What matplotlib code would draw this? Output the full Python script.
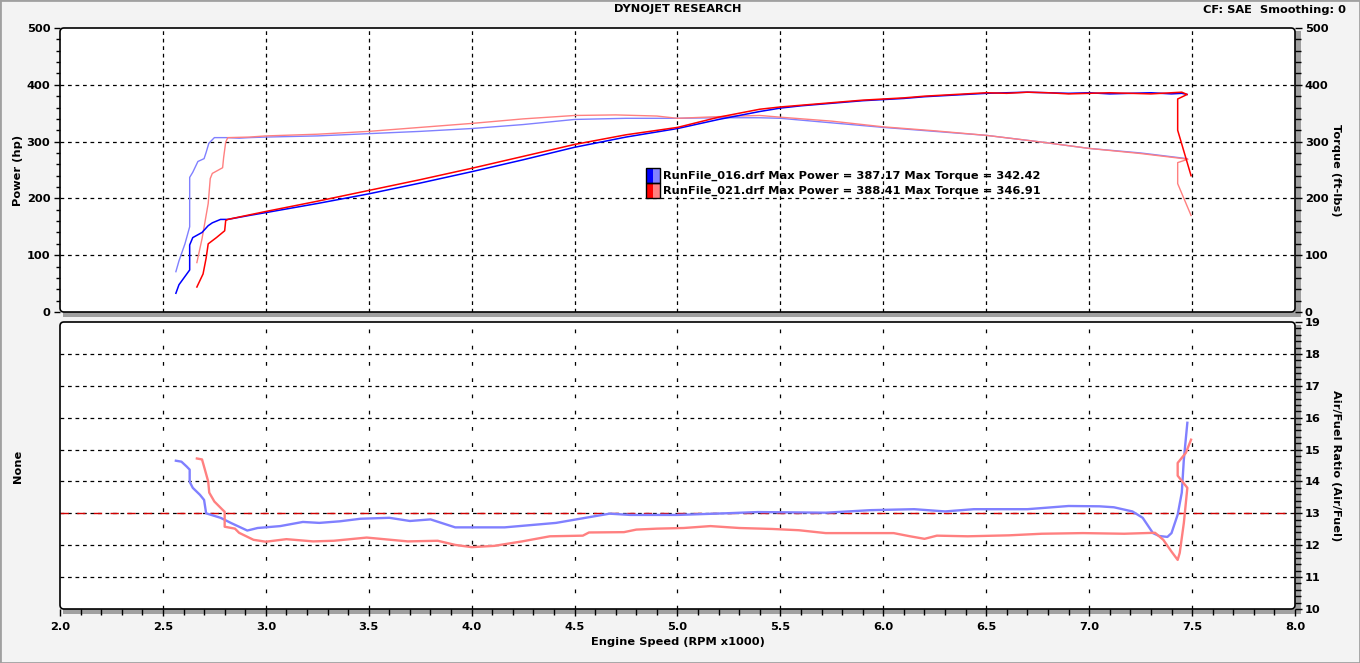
import matplotlib
matplotlib.use("Agg")
import matplotlib.pyplot as plt
from matplotlib.patches import FancyBboxPatch, Rectangle
from matplotlib.ticker import MultipleLocator

W, H = 1360, 663

# Run 016 (blue) - power / torque vs engine speed
rpm_pwr_016 = [2.563, 2.578, 2.63, 2.63, 2.645, 2.69, 2.72, 2.74, 2.78, 2.815, 2.92, 3.0, 3.25, 3.5,
               3.75, 4.0, 4.25, 4.5, 4.75, 5.0, 5.2, 5.4, 5.5, 5.6, 5.7, 5.8, 5.9, 6.0, 6.1, 6.2,
               6.3, 6.4, 6.5, 6.6, 6.7, 6.8, 6.9, 7.0, 7.1, 7.2, 7.3, 7.4, 7.45, 7.476]
hp_016 = [33, 48, 74, 118, 131, 140, 152, 157, 163, 163, 170, 175, 191, 208,
          227, 247, 268, 290, 308, 323, 339, 353, 359, 363, 366, 369, 372, 374, 376, 379,
          381, 383, 385, 386, 387, 386, 385, 386, 384, 385, 386, 384, 385, 383]
rpm_trq_016 = [2.563, 2.578, 2.607, 2.63, 2.63, 2.645, 2.67, 2.70, 2.71, 2.723, 2.75, 2.81, 2.87,
               2.92, 3.0, 3.25, 3.5, 3.75, 4.0, 4.25, 4.5, 4.75, 5.0, 5.2, 5.4, 5.5, 5.75, 6.0,
               6.25, 6.5, 6.75, 7.0, 7.25, 7.476]
trq_016 = [71, 90, 120, 150, 237, 246, 265, 270, 281, 297, 307, 307, 306,
           307, 308, 310, 314, 318, 323, 330, 339, 341, 341, 342, 342, 341, 333, 325,
           318, 311, 300, 288, 280, 270]

# Run 021 (red)
rpm_pwr_021 = [2.665, 2.695, 2.71, 2.72, 2.76, 2.80, 2.805, 2.815, 2.92, 3.0, 3.25, 3.5, 3.75, 4.0,
               4.25, 4.5, 4.75, 5.0, 5.2, 5.4, 5.5, 5.6, 5.7, 5.8, 5.9, 6.0, 6.1, 6.2, 6.3, 6.4,
               6.5, 6.6, 6.7, 6.8, 6.9, 7.0, 7.1, 7.2, 7.3, 7.4, 7.45, 7.476, 7.43, 7.43, 7.495]
hp_021 = [44, 67, 95, 120, 131, 143, 161, 163, 171, 177, 195, 214, 233, 253,
          274, 295, 312, 325, 343, 357, 361, 364, 367, 370, 373, 375, 377, 380, 382, 384,
          386, 385, 387, 386, 384, 385, 386, 385, 384, 386, 387, 383, 375, 320, 240]
rpm_trq_021 = [2.665, 2.69, 2.72, 2.73, 2.74, 2.79, 2.795, 2.805, 2.815, 2.92, 3.0, 3.25, 3.5,
               3.75, 4.0, 4.25, 4.5, 4.7, 4.9, 5.0, 5.2, 5.4, 5.5, 5.75, 6.0, 6.25, 6.5, 6.75,
               7.0, 7.25, 7.48, 7.43, 7.43, 7.495]
trq_021 = [87, 129, 191, 235, 244, 254, 272, 299, 307, 308, 310, 313, 318,
           325, 332, 340, 346, 347, 345, 341, 344, 346, 343, 336, 326, 319, 311, 300,
           288, 279, 269, 263, 226, 170]

# Air/fuel ratio
rpm_afr_016 = [2.563, 2.59, 2.615, 2.63, 2.63, 2.645, 2.68, 2.70, 2.71, 2.78, 2.83, 2.91, 2.96,
               3.07, 3.18, 3.26, 3.36, 3.46, 3.6, 3.7, 3.8, 3.92, 4.16, 4.41, 4.67, 4.77, 5.0,
               5.23, 5.39, 5.72, 5.94, 6.15, 6.30, 6.44, 6.70, 6.90, 7.05, 7.12, 7.21, 7.26,
               7.31, 7.34, 7.38, 7.40, 7.43, 7.45, 7.46, 7.477]
afr_016 = [14.65, 14.62, 14.47, 14.37, 13.99, 13.8, 13.58, 13.42, 13.0, 12.86, 12.7, 12.46, 12.54,
           12.6, 12.73, 12.7, 12.75, 12.83, 12.86, 12.76, 12.81, 12.56, 12.56, 12.70, 12.99, 12.95, 12.95,
           13.0, 13.04, 13.02, 13.1, 13.13, 13.06, 13.13, 13.13, 13.23, 13.22, 13.19, 13.06, 12.86,
           12.38, 12.29, 12.26, 12.38, 12.96, 13.65, 14.69, 15.84]
rpm_afr_021 = [2.665, 2.69, 2.704, 2.72, 2.725, 2.75, 2.79, 2.80, 2.80, 2.85, 2.87, 2.94, 3.0,
               3.1, 3.23, 3.33, 3.49, 3.69, 3.835, 3.92, 4.0, 4.11, 4.245, 4.38, 4.54, 4.57,
               4.74, 4.80, 4.90, 5.03, 5.16, 5.30, 5.46, 5.59, 5.72, 6.05, 6.13, 6.20, 6.26,
               6.41, 6.61, 6.77, 6.97, 7.17, 7.32, 7.36, 7.40, 7.43, 7.44, 7.46, 7.477, 7.43,
               7.43, 7.47, 7.495]
afr_021 = [14.72, 14.69, 14.37, 14.0, 13.65, 13.37, 13.11, 13.05, 12.58, 12.52, 12.39, 12.17, 12.11,
           12.19, 12.12, 12.14, 12.24, 12.12, 12.14, 12.01, 11.94, 11.98, 12.12, 12.28, 12.30, 12.40,
           12.41, 12.49, 12.52, 12.54, 12.60, 12.54, 12.51, 12.47, 12.38, 12.38, 12.28, 12.20, 12.30,
           12.28, 12.31, 12.36, 12.38, 12.36, 12.39, 12.17, 11.8, 11.54, 11.76, 12.70, 13.8, 14.18,
           14.58, 14.9, 15.31]
afr_target = 13.0

legend_lines = ["RunFile_016.drf Max Power = 387.17 Max Torque = 342.42",
                "RunFile_021.drf Max Power = 388.41 Max Torque = 346.91"]

BLUE, LBLUE, RED, LRED = "#0000ff", "#8080ff", "#ff0000", "#ff8080"
FS = 8.2
FONT = dict(family="DejaVu Sans", weight="bold", size=FS)

plt.rcParams["font.family"] = "DejaVu Sans"
plt.rcParams["font.weight"] = "bold"


def fx(px):
    return px / W


def fy(py):
    return 1 - py / H


fig = plt.figure(figsize=(W / 100, H / 100), dpi=100, facecolor="#f3f3f3")

# outer window border
fig.patches.append(Rectangle((0, 0), 1, 1, transform=fig.transFigure, fill=False,
                             edgecolor="#a0a0a0", linewidth=2, zorder=-5))

X0, X1 = 60, 1295
panels = [(28, 312), (322, 609)]
axes = []
for top, bot in panels:
    ax = fig.add_axes([fx(X0), fy(bot), fx(X1 - X0), (bot - top) / H])
    ax.set_facecolor("white")
    for s in ax.spines.values():
        s.set_visible(False)
    # shadow on the right and bottom
    fig.patches.append(Rectangle((X1, H - bot - 5), 6, bot - top + 2, transform=None,
                                 facecolor="#a0a0a0", edgecolor="none", zorder=-1))
    fig.patches.append(Rectangle((X0 + 3, H - bot - 5), X1 - X0 + 3, 5, transform=None,
                                 facecolor="#a0a0a0", edgecolor="none", zorder=-1))
    # rounded frame
    fig.patches.append(FancyBboxPatch((X0, H - bot), X1 - X0, bot - top, transform=None,
                                      boxstyle="round,pad=0,rounding_size=4", fill=False,
                                      edgecolor="black", linewidth=1.2, zorder=5))
    axes.append(ax)

ax_pw, ax_afr = axes

# ---- top panel: power & torque
ax_pw.set_xlim(2.0, 8.0)
ax_pw.set_ylim(0, 500)
for xv in [2.5, 3.0, 3.5, 4.0, 4.5, 5.0, 5.5, 6.0, 6.5, 7.0, 7.5]:
    ax_pw.axvline(xv, color="black", lw=0.9, ls=(0, (3, 3)), zorder=1)
for yv in [100, 200, 300, 400]:
    ax_pw.axhline(yv, color="black", lw=0.9, ls=(0, (3, 3)), zorder=1)

ax_pw.plot(rpm_trq_016, trq_016, color=LBLUE, lw=1.0, zorder=3)
ax_pw.plot(rpm_trq_021, trq_021, color=LRED, lw=1.0, zorder=3)
ax_pw.plot(rpm_pwr_016, hp_016, color=BLUE, lw=1.1, zorder=4)
ax_pw.plot(rpm_pwr_021, hp_021, color=RED, lw=1.1, zorder=4)

ax_pw.set_xticks([])
ax_pw.yaxis.set_major_locator(MultipleLocator(100))
ax_pw.yaxis.set_minor_locator(MultipleLocator(20))
ax_pw.tick_params(axis="y", which="major", direction="out", length=4, width=1, pad=3, labelsize=FS)
ax_pw.tick_params(axis="y", which="minor", direction="out", length=3, width=1)

ax_tq = ax_pw.twinx()
ax_tq.set_ylim(0, 500)
for s in ax_tq.spines.values():
    s.set_visible(False)
ax_tq.yaxis.set_major_locator(MultipleLocator(100))
ax_tq.yaxis.set_minor_locator(MultipleLocator(20))
ax_tq.tick_params(axis="y", which="major", direction="out", length=5, width=1, pad=2, labelsize=FS)
ax_tq.tick_params(axis="y", which="minor", direction="out", length=4, width=1)
ax_tq.set_xticks([])

# legend block
for i, (dark, light, txt) in enumerate([(BLUE, LBLUE, legend_lines[0]), (RED, LRED, legend_lines[1])]):
    ytop = 168 + i * 15
    fig.patches.append(Rectangle((646, H - ytop - 15), 7, 15, transform=None,
                                 facecolor=dark, edgecolor="none", zorder=6))
    fig.patches.append(Rectangle((653, H - ytop - 15), 7, 15, transform=None,
                                 facecolor=light, edgecolor="none", zorder=6))
    fig.patches.append(Rectangle((646, H - ytop - 15), 14, 15, transform=None,
                                 fill=False, edgecolor="black", linewidth=1, zorder=7))
    fig.text(fx(663), fy(ytop + 7.5), txt, ha="left", va="center", zorder=7, **FONT)

# ---- bottom panel: air/fuel ratio
ax_afr.set_xlim(2.0, 8.0)
ax_afr.set_ylim(10, 19)
for xv in [2.5, 3.0, 3.5, 4.0, 4.5, 5.0, 5.5, 6.0, 6.5, 7.0, 7.5]:
    ax_afr.axvline(xv, color="black", lw=0.9, ls=(0, (3, 10)), zorder=1)
for yv in [11, 12, 13, 14, 15, 16, 17, 18]:
    ax_afr.axhline(yv, color="black", lw=0.9, ls=(0, (3, 3)), zorder=1)
ax_afr.axhline(afr_target, color="#d00000", lw=1.0, ls=(0, (6, 6)), zorder=2)

ax_afr.plot(rpm_afr_016, afr_016, color=LBLUE, lw=1.7, zorder=3)
ax_afr.plot(rpm_afr_021, afr_021, color=LRED, lw=1.7, zorder=4)

ax_afr.xaxis.set_major_locator(MultipleLocator(0.5))
ax_afr.xaxis.set_minor_locator(MultipleLocator(0.1))
ax_afr.xaxis.set_major_formatter(plt.FormatStrFormatter("%.1f"))
ax_afr.tick_params(axis="x", which="major", direction="out", length=5, width=1, pad=4, labelsize=FS)
ax_afr.tick_params(axis="x", which="minor", direction="out", length=4, width=1)
ax_afr.yaxis.tick_right()
ax_afr.yaxis.set_major_locator(MultipleLocator(1))
ax_afr.yaxis.set_minor_locator(MultipleLocator(0.2))
ax_afr.tick_params(axis="y", which="major", direction="out", length=5, width=1, pad=2, labelsize=FS)
ax_afr.tick_params(axis="y", which="minor", direction="out", length=4, width=1)

# ---- texts
fig.text(fx(678), fy(9), "DYNOJET RESEARCH", ha="center", va="center", **FONT)
fig.text(fx(1346), fy(10), "CF: SAE  Smoothing: 0", ha="right", va="center", **FONT)
fig.text(fx(18), fy(170), "Power (hp)", rotation=90, ha="center", va="center", **FONT)
fig.text(fx(1336), fy(170), "Torque (ft-lbs)", rotation=270, ha="center", va="center", **FONT)
fig.text(fx(18), fy(466), "None", rotation=90, ha="center", va="center", **FONT)
fig.text(fx(1336), fy(466), "Air/Fuel Ratio (Air/Fuel)", rotation=270, ha="center", va="center", **FONT)
fig.text(fx(678), fy(642), "Engine Speed (RPM x1000)", ha="center", va="center", **FONT)

fig.savefig("out.png", dpi=100, facecolor=fig.get_facecolor())
